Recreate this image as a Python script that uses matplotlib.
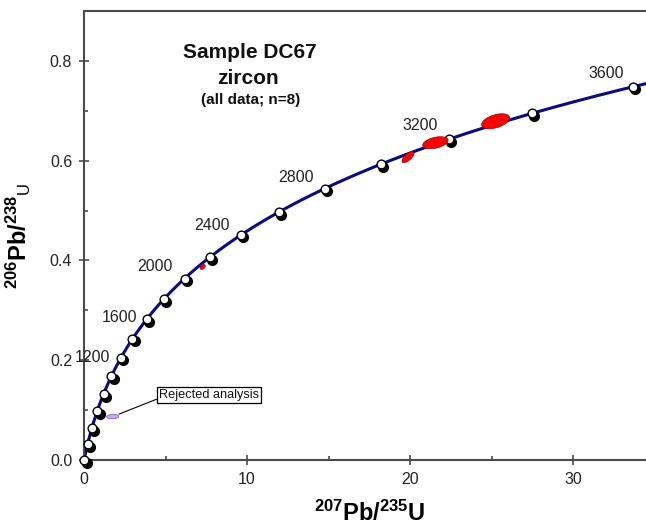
import numpy as np
import matplotlib
matplotlib.use('Agg')
import matplotlib.pyplot as plt
from matplotlib import transforms

plt.rcParams['font.family'] = ['Liberation Sans', 'DejaVu Sans']
plt.rcParams['mathtext.fontset'] = 'custom'
plt.rcParams['mathtext.rm'] = 'Liberation Sans'
plt.rcParams['mathtext.bf'] = 'Liberation Sans:bold'
plt.rcParams['mathtext.default'] = 'bf'

# Decay constants (per year) for the concordia
lambda_238 = 1.55125e-10
lambda_235 = 9.8485e-10

# Age marks along concordia (Ma) and the ones that carry a label
marker_ages = [0, 200, 400, 600, 800, 1000, 1200, 1400, 1600, 1800, 2000,
               2200, 2400, 2600, 2800, 3000, 3200, 3400, 3600]
label_ages = [1200, 1600, 2000, 2400, 2800, 3200, 3600]

# Analyses: 207Pb/235U, 206Pb/238U, half-extent x, half-extent y, correlation
ell_x = [7.28, 19.88, 21.56, 25.25]
ell_y = [0.387, 0.607, 0.636, 0.679]
ell_sx = [0.16, 0.37, 0.78, 0.86]
ell_sy = [0.005, 0.011, 0.012, 0.015]
ell_rho = [0.4, 0.7, 0.4, 0.45]

# Rejected analysis
rej_x, rej_y, rej_sx, rej_sy, rej_rho = 1.76, 0.087, 0.37, 0.0045, 0.1

xticks = [0, 10, 20, 30]
yticks = [0.0, 0.2, 0.4, 0.6, 0.8]


def concordia(age_ma):
    t = np.asarray(age_ma, dtype=float) * 1e6
    return np.exp(lambda_235 * t) - 1, np.exp(lambda_238 * t) - 1


def ellipse_pts(cx, cy, sx, sy, rho, n=100):
    phi = np.linspace(0, 2 * np.pi, n)
    x = cx + sx * np.cos(phi)
    y = cy + sy * (rho * np.cos(phi) + np.sqrt(1 - rho ** 2) * np.sin(phi))
    return x, y


fig = plt.figure(figsize=(6.46, 5.27), dpi=100)
ax = fig.add_axes([84 / 646, 67 / 527, 570.5 / 646, 449 / 527])
ax.set_xlim(0, 35)
ax.set_ylim(0, 0.9)

# concordia curve
ages = np.linspace(0, 3700, 400)
cx, cy = concordia(ages)
ax.plot(cx, cy, color='#0b0b85', lw=2.2, zorder=2)

# age markers: black shadow + white circle
mx, my = concordia(marker_ages)
shadow = transforms.offset_copy(ax.transData, fig=fig, x=2.5, y=-2.5, units='dots')
ax.plot(mx, my, 'o', ms=7, color='black', transform=shadow, zorder=3, clip_on=False)
ax.plot(mx, my, 'o', ms=6.3, mfc='white', mec='black', mew=1, zorder=4, clip_on=False)

# age labels (offsets in points)
label_off = [(-8, 0), (-7, 1.5), (-8.5, 8.5), (-8, 7), (-8, 8), (-8, 10), (-6.5, 9.5)]
lx, ly = concordia(label_ages)
for age, x, y, off in zip(label_ages, lx, ly, label_off):
    ax.annotate(str(age), (x, y), xytext=off, textcoords='offset points',
                ha='right', va='center', fontsize=11.5, color='#222222', zorder=5)

# analysis ellipses
for x0, y0, sx, sy, r in zip(ell_x, ell_y, ell_sx, ell_sy, ell_rho):
    ex, ey = ellipse_pts(x0, y0, sx, sy, r)
    ax.fill(ex, ey, facecolor='#ff0000', edgecolor='#a00000', lw=0.5, zorder=6)

ex, ey = ellipse_pts(rej_x, rej_y, rej_sx, rej_sy, rej_rho)
ax.fill(ex, ey, facecolor='#c9a6f2', edgecolor='#7a5aa0', lw=0.5, zorder=6)
ax.annotate('Rejected analysis', xy=(2.15, 0.092), xytext=(7.67, 0.131),
            ha='center', va='center', fontsize=9.2, color='#111111',
            bbox=dict(boxstyle='square,pad=0.15', fc='white', ec='black', lw=0.9),
            arrowprops=dict(arrowstyle='-', color='black', lw=0.8,
                            relpos=(0, 0.2), shrinkA=0, shrinkB=0),
            zorder=7)

# title block
ax.text(10.18, 0.816, 'Sample DC67', ha='center', va='center',
        fontsize=15, fontweight='bold', color='#111111')
ax.text(10.06, 0.764, 'zircon', ha='center', va='center',
        fontsize=15, fontweight='bold', color='#111111')
ax.text(10.25, 0.721, '(all data; n=8)', ha='center', va='center',
        fontsize=11, fontweight='bold', color='#111111')

# axes styling
for side in ['left', 'bottom', 'top', 'right']:
    ax.spines[side].set_color('#4a4a4a')
    ax.spines[side].set_linewidth(1.5)

ax.set_xticks(xticks)
ax.set_xticklabels([str(v) for v in xticks])
ax.set_yticks(yticks)
ax.set_yticklabels(['%.1f' % v for v in yticks])
ax.set_xticks([5, 15, 25], minor=True)
ax.set_yticks([0.1, 0.3, 0.5, 0.7], minor=True)
ax.tick_params(which='major', direction='inout', length=7, width=1.2,
               color='#4a4a4a', labelsize=11.5, labelcolor='#222222', pad=5)
ax.tick_params(which='minor', direction='in', length=3, width=1.2, color='#4a4a4a')

ax.set_xlabel(r'$^{207}$Pb/$^{235}$U', fontsize=17, fontweight='bold', labelpad=10)
ax.set_ylabel(r'$^{206}$Pb/$^{238}$$_{\mathrm{U}}$', fontsize=17, fontweight='bold', labelpad=12)

fig.savefig('out.png', dpi=100)
